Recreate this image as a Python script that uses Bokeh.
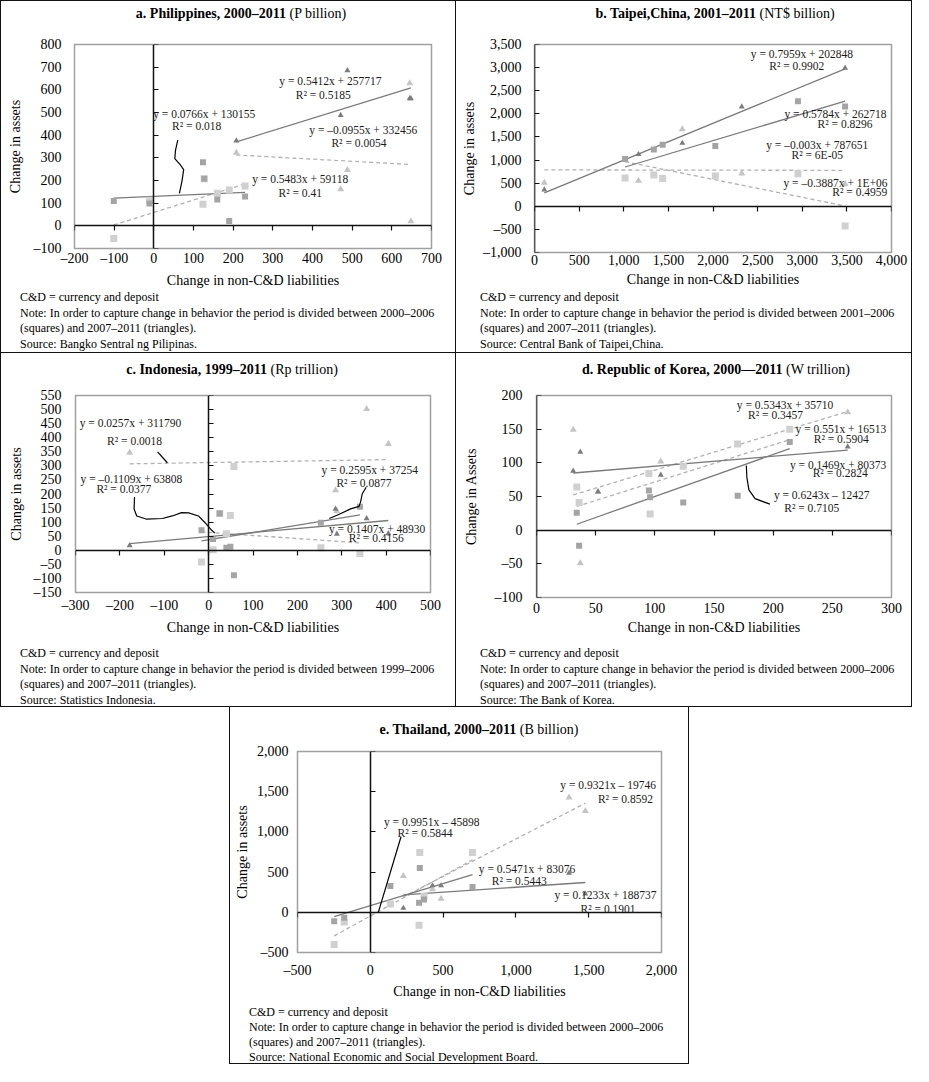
from bokeh.plotting import figure
from bokeh.models import (Range1d, LinearAxis, SingleIntervalTicker, CustomJSTickFormatter,
                          Label, Div, Spacer)
from bokeh.layouts import row, column
from bokeh.embed import file_html
from bokeh.resources import INLINE

FONT = "Liberation Serif"

# ---------------- data ----------------
# a. Philippines (P billion)
a_sq_x = [-101, -11, 124, 127, 160, 190, 230]
a_sq_dark = [110, 99, 280, 208, 116, 21, 129]
a_sq_light = [-56, 113, 95, 208, 144, 158, 176]
a_tr_x = [208, 471, 488, 645, 648]
a_tr_dark = [375, 488, 685, 562, 562]
a_tr_light = [322, 161, 246, 629, 20]
a_fit_sq_dark = (0.0766, 130.155)
a_fit_sq_light = (0.5483, 59.118)
a_fit_tr_dark = (0.5412, 257.717)
a_fit_tr_light = (-0.0955, 332.456)
a_lab_text = ["y = 0.5412x + 257717", "R² = 0.5185", "y = 0.0766x + 130155", "R² = 0.018",
              "y = –0.0955x + 332456", "R² = 0.0054", "y = 0.5483x + 59118", "R² = 0.41"]
a_lab_x = [445, 427, 127, 108, 528, 517, 369, 369]
a_lab_y = [639, 579, 492, 439, 425, 364, 206, 143]
a_lead_x = [[60.3, 54.5, 52.9, 66.9, 75.2, 71.1, 64.5]]
a_lead_y = [[377.6, 331.5, 296.5, 268.5, 247.6, 198.6, 142.7]]

# b. Taipei,China (NT$ billion)
b_sq_x = [1015, 1337, 1436, 2026, 2952, 3480]
b_sq_dark = [1025, 1228, 1333, 1305, 2274, 2156]
b_sq_light = [614, 677, 600, 656, 705, -426]
b_tr_x = [110, 1165, 1656, 2322, 3480]
b_tr_dark = [356, 1123, 1367, 2155, 2993]
b_tr_light = [509, 551, 1667, 712, 480]
b_fit_sq_dark = (0.5784, 262.718)
b_fit_sq_light = (-0.3887, 1360.0)
b_fit_tr_dark = (0.7959, 202.848)
b_fit_tr_light = (-0.003, 787.651)
b_lab_text = ["y = 0.7959x + 202848", "R² = 0.9902", "y = 0.5784x + 262718", "R² = 0.8296",
              "y = –0.003x + 787651", "R² = 6E-05", "y = –0.3887x + 1E+06", "R² = 0.4959"]
b_lab_x = [2996, 2938, 3546, 3480, 3168, 3168, 3505, 3736]
b_lab_y = [3305, 3040, 2000, 1770, 1330, 1107, 514, 318]
b_lead_x = []
b_lead_y = []

# c. Indonesia (Rp trillion)
c_sq_x = [-16, 10, 25, 40, 49, 57, 253, 341]
c_sq_dark = [71, 40, 131, 9, 13, -89, 98, 155]
c_sq_light = [-42, 2, 131, 59, 124, 298, 9, -11]
c_tr_x = [-178, 286, 289, 356, 405]
c_tr_dark = [17, 147, 58, 113, 60]
c_tr_light = [347, 213, 139, 502, 378]
c_fit_sq_dark = (0.2595, 37.254)
c_fit_sq_light = (-0.1109, 63.808)
c_fit_tr_dark = (0.1407, 48.930)
c_fit_tr_light = (0.0257, 311.790)
c_lab_text = ["y = 0.0257x + 311790", "R² = 0.0018", "y = –0.1109x + 63808", "R² = 0.0377",
              "y = 0.2595x + 37254", "R² = 0.0877", "y = 0.1407x + 48930", "R² = 0.4156"]
c_lab_x = [-176, -167, -174, -191, 363, 350, 391, 378]
c_lab_y = [453, 389, 253, 217, 287, 239, 76, 42]
c_lead_x = [[-115, -93],
            [-167, -168, -162, -141, -104, -82, -61, -45, -23, -8, 6.5, 14],
            [355, 346, 342.5, 339, 320, 294.5, 272]]
c_lead_y = [[350, 311],
            [189, 147, 122, 111, 113, 122, 134, 133, 122, 98, 72, 61],
            [224, 200, 172, 156, 147, 128, 113]]

# d. Republic of Korea (W trillion)
d_sq_x = [34, 36, 95, 96, 124, 170, 214]
d_sq_dark = [26, -23, 59, 49, 41, 51, 131]
d_sq_light = [64, 41, 84, 24, 95, 128, 150]
d_tr_x = [31, 37, 52, 105, 263]
d_tr_dark = [88, 116, 57, 82, 124]
d_tr_light = [149, -49, 57, 102, 175]
d_fit_sq_dark = (0.6243, -12.427)
d_fit_sq_light = (0.551, 16.513)
d_fit_tr_dark = (0.1469, 80.373)
d_fit_tr_light = (0.5343, 35.710)
d_lab_text = ["y = 0.5343x + 35710", "R² = 0.3457", "y = 0.551x + 16513", "R² = 0.5904",
              "y = 0.1469x + 80373", "R² = 0.2824", "y = 0.6243x – 12427", "R² = 0.7105"]
d_lab_x = [210, 202, 265, 257.5, 263.5, 256.6, 241, 232.6]
d_lab_y = [186.5, 170.6, 150.4, 135, 97.4, 85.3, 52.6, 32.4]
d_lead_x = [[177.3, 177.8, 179.5, 184.7, 197.2]]
d_lead_y = [[96, 78.1, 59.8, 46.8, 38.6]]

# e. Thailand (B billion)
e_sq_x = [-248, -179, 138, 335, 340, 369, 702]
e_sq_dark = [-112, -68, 328, 120, 552, 160, 316]
e_sq_light = [-400, -120, 104, -160, 744, 200, 744]
e_tr_x = [227, 427, 486, 1365, 1477]
e_tr_dark = [52, 332, 332, 488, 232]
e_tr_light = [452, 288, 168, 1428, 1260]
e_fit_sq_dark = (0.5471, 83.076)
e_fit_sq_light = (0.9951, -45.898)
e_fit_tr_dark = (0.1233, 188.737)
e_fit_tr_light = (0.9321, -19.746)
e_lab_text = ["y = 0.9321x – 19746", "R² = 0.8592", "y = 0.9951x – 45898", "R² = 0.5844",
              "y = 0.5471x + 83076", "R² = 0.5443", "y = 0.1233x + 188737", "R² = 0.1901"]
e_lab_x = [1706, 1752, 422, 376, 1076, 1023, 1656, 1633]
e_lab_y = [1588, 1408, 1128, 988, 540, 392, 220, 40]
e_lead_x = [[211, 55]]
e_lead_y = [[940, 0]]

NOTE1 = "C&amp;D = currency and deposit"
NOTE3 = "(squares) and 2007–2011 (triangles)."


def note2(period):
    return ("Note: In order to capture change in behavior the period is divided between "
            + period)


# ---------------- styling ----------------
C_SQ_LIGHT = "#d0d0d0"
C_SQ_DARK = "#a4a4a4"
C_TR_LIGHT = "#c4c4c4"
C_TR_DARK = "#7c7c7c"
C_SOLID = "#7a7a7a"
C_DASH = "#b2b2b2"
LAB_SIZE = 11.5


def fmt():
    return CustomJSTickFormatter(code="""
        const v = Math.abs(tick);
        const s = v.toLocaleString('en-US');
        return tick < 0 ? '\\u2013' + s : s;
    """)


def trend(p, xs, fit, dashed):
    m, b = fit
    x0, x1 = min(xs), max(xs)
    p.line([x0, x1], [m * x0 + b, m * x1 + b],
           line_color=C_DASH if dashed else C_SOLID, line_width=1.3,
           line_dash="4 3" if dashed else "solid")


def make_panel(cfg):
    W = cfg["W"]
    # title
    cx = cfg["title_cx"]
    ml = max(0, 2 * cx - W)
    mr = max(0, W - 2 * cx)
    title_html = (f'<div style="display:block;box-sizing:border-box;width:{W - ml - mr}px;'
                  f'font-family:\'{FONT}\';font-size:14px;line-height:18px;'
                  f'padding-top:{cfg["title_pt"]}px;text-align:center;white-space:nowrap;'
                  f'margin-left:{ml}px;color:#000">'
                  f'<b>{cfg["bold"]}</b> {cfg["rest"]}</div>')
    tdiv = Div(text=title_html, width=W, height=cfg["title_h"], margin=(0, 0, 0, 0))

    p = figure(width=W, height=cfg["fig_h"],
               x_range=Range1d(*cfg["xr"]), y_range=Range1d(*cfg["yr"]),
               output_backend="svg", toolbar_location=None,
               min_border_left=cfg["mbl"], min_border_right=cfg["mbr"],
               min_border_top=cfg["mbt"], min_border_bottom=cfg["mbb"],
               background_fill_color="white", border_fill_color="white",
               outline_line_color="#a0a0a0", outline_line_width=1.5, margin=(0, 0, 0, 0))
    p.grid.visible = False

    xa = p.below[0]
    ya = p.left[0]
    for ax, interval in ((xa, cfg["xint"]), (ya, cfg["yint"])):
        ax.ticker = SingleIntervalTicker(interval=interval, num_minor_ticks=0)
        ax.formatter = fmt()
        ax.axis_line_color = None
        ax.major_tick_line_color = None
        ax.minor_tick_line_color = None
        ax.major_tick_in = 0
        ax.major_tick_out = 0
        ax.major_label_text_font = FONT
        ax.major_label_text_font_size = "14px"
        ax.major_label_text_color = "#000"
        ax.axis_label_text_font = FONT
        ax.axis_label_text_font_size = "14px"
        ax.axis_label_text_font_style = "normal"
        ax.axis_label_text_color = "#000"
    xa.axis_label = "Change in non-C&D liabilities"
    ya.axis_label = cfg["ylabel"]
    xa.major_label_standoff = cfg["x_std"]
    xa.axis_label_standoff = cfg["x_lab_std"]
    ya.major_label_standoff = cfg["y_std"]
    ya.axis_label_standoff = cfg["y_lab_std"]

    # axes through zero
    for side, interval in (("left", cfg["yint"]), ("below", cfg["xint"])):
        ax0 = LinearAxis(fixed_location=0,
                         ticker=SingleIntervalTicker(interval=interval, num_minor_ticks=0),
                         major_label_text_font_size="0px", major_label_text_alpha=0,
                         axis_line_color="#111", axis_line_width=1.5,
                         major_tick_line_color="#111", major_tick_line_width=1.2,
                         minor_tick_line_color=None)
        if side == "left":
            ax0.major_tick_in = 5
            ax0.major_tick_out = 0
        else:
            ax0.major_tick_in = 0
            ax0.major_tick_out = 5
        p.add_layout(ax0, side)

    # trend lines
    trend(p, cfg["sq_x"], cfg["fit_sq_light"], True)
    trend(p, cfg["tr_x"], cfg["fit_tr_light"], True)
    trend(p, cfg["sq_x"], cfg["fit_sq_dark"], False)
    trend(p, cfg["tr_x"], cfg["fit_tr_dark"], False)

    # points
    p.scatter(cfg["sq_x"], cfg["sq_light"], marker="square", size=7,
              fill_color=C_SQ_LIGHT, line_color=None)
    p.scatter(cfg["sq_x"], cfg["sq_dark"], marker="square", size=6,
              fill_color=C_SQ_DARK, line_color=None)
    p.scatter(cfg["tr_x"], cfg["tr_light"], marker="triangle", size=7,
              fill_color=C_TR_LIGHT, line_color=None)
    p.scatter(cfg["tr_x"], cfg["tr_dark"], marker="triangle", size=6,
              fill_color=C_TR_DARK, line_color=None)

    # leader lines
    for lx, ly in zip(cfg["lead_x"], cfg["lead_y"]):
        p.line(lx, ly, line_color="#000", line_width=1.2)

    # regression labels (kept inside the plot area, which clips annotations)
    x0, x1 = cfg["xr"]
    frame_w = W - cfg["mbl"] - cfg["mbr"]
    upp = (x1 - x0) / frame_w
    for t, x, y in zip(cfg["lab_text"], cfg["lab_x"], cfg["lab_y"]):
        half = 0.47 * LAB_SIZE * len(t) / 2 + 2
        xc = min(x, x1 - half * upp)
        p.add_layout(Label(x=xc, y=y, text=t, text_align="center", text_baseline="middle",
                           text_font=FONT, text_font_size=f"{LAB_SIZE}px",
                           text_color="#1a1a1a"))

    notes_html = (f'<div style="font-family:\'{FONT}\';font-size:12px;'
                  f'line-height:{cfg["notes_lh"]}px;padding-top:{cfg["notes_pt"]}px;'
                  f'padding-left:{cfg["notes_pl"]}px;white-space:nowrap;color:#000">'
                  + "<br>".join(cfg["notes"]) + '</div>')
    ndiv = Div(text=notes_html, width=W, height=cfg["notes_h"], margin=(0, 0, 0, 0))

    styles = {f"border-{s}": "1px solid #111" for s in cfg["borders"]}
    return column(tdiv, p, ndiv, spacing=0, styles=styles)


common_ab = dict(title_h=27, title_pt=4, fig_h=262, mbt=16, mbb=38, notes_h=62,
                 notes_pt=0, notes_lh=15.5, x_std=2, x_lab_std=4)
common_cd = dict(title_h=27, title_pt=8, fig_h=257, mbt=15, mbb=37, notes_h=69,
                 notes_pt=9, notes_lh=15.5, x_std=5, x_lab_std=4)

pa = make_panel(dict(common_ab, W=454, bold="a. Philippines, 2000–2011", rest="(P billion)",
                     title_cx=240, ylabel="Change in assets", xr=(-200, 700), yr=(-100, 800),
                     xint=100, yint=100, mbl=73, mbr=24, y_std=13, y_lab_std=8,
                     sq_x=a_sq_x, sq_dark=a_sq_dark, sq_light=a_sq_light,
                     tr_x=a_tr_x, tr_dark=a_tr_dark, tr_light=a_tr_light,
                     fit_sq_dark=a_fit_sq_dark, fit_sq_light=a_fit_sq_light,
                     fit_tr_dark=a_fit_tr_dark, fit_tr_light=a_fit_tr_light,
                     lab_text=a_lab_text, lab_x=a_lab_x, lab_y=a_lab_y,
                     lead_x=a_lead_x, lead_y=a_lead_y, notes_pl=19,
                     notes=[NOTE1, note2("2000–2006"), NOTE3,
                            "Source: Bangko Sentral ng Pilipinas."],
                     borders=["top", "left", "right", "bottom"]))

pb = make_panel(dict(common_ab, W=455, bold="b. Taipei,China, 2001–2011", rest="(NT$ billion)",
                     title_cx=259, ylabel="Change in assets", xr=(0, 4000), yr=(-1000, 3500),
                     xint=500, yint=500, mbl=78, mbr=20, y_std=13, y_lab_std=3,
                     sq_x=b_sq_x, sq_dark=b_sq_dark, sq_light=b_sq_light,
                     tr_x=b_tr_x, tr_dark=b_tr_dark, tr_light=b_tr_light,
                     fit_sq_dark=b_fit_sq_dark, fit_sq_light=b_fit_sq_light,
                     fit_tr_dark=b_fit_tr_dark, fit_tr_light=b_fit_tr_light,
                     lab_text=b_lab_text, lab_x=b_lab_x, lab_y=b_lab_y,
                     lead_x=b_lead_x, lead_y=b_lead_y, notes_pl=24,
                     notes=[NOTE1, note2("2001–2006"), NOTE3,
                            "Source: Central Bank of Taipei,China."],
                     borders=["top", "right", "bottom"]))

pc = make_panel(dict(common_cd, W=454, bold="c. Indonesia, 1999–2011", rest="(Rp trillion)",
                     title_cx=231, ylabel="Change in assets", xr=(-300, 500), yr=(-150, 550),
                     xint=100, yint=50, mbl=74, mbr=25, y_std=14, y_lab_std=7,
                     sq_x=c_sq_x, sq_dark=c_sq_dark, sq_light=c_sq_light,
                     tr_x=c_tr_x, tr_dark=c_tr_dark, tr_light=c_tr_light,
                     fit_sq_dark=c_fit_sq_dark, fit_sq_light=c_fit_sq_light,
                     fit_tr_dark=c_fit_tr_dark, fit_tr_light=c_fit_tr_light,
                     lab_text=c_lab_text, lab_x=c_lab_x, lab_y=c_lab_y,
                     lead_x=c_lead_x, lead_y=c_lead_y, notes_pl=19,
                     notes=[NOTE1, note2("1999–2006"), NOTE3,
                            "Source: Statistics Indonesia."],
                     borders=["left", "right", "bottom"]))

pd_ = make_panel(dict(common_cd, W=455, bold="d. Republic of Korea, 2000—2011", rest="(W trillion)",
                      title_cx=260, ylabel="Change in Assets", xr=(0, 300), yr=(-100, 200),
                      xint=50, yint=50, mbl=80, mbr=20, y_std=14, y_lab_std=13,
                      sq_x=d_sq_x, sq_dark=d_sq_dark, sq_light=d_sq_light,
                      tr_x=d_tr_x, tr_dark=d_tr_dark, tr_light=d_tr_light,
                      fit_sq_dark=d_fit_sq_dark, fit_sq_light=d_fit_sq_light,
                      fit_tr_dark=d_fit_tr_dark, fit_tr_light=d_fit_tr_light,
                      lab_text=d_lab_text, lab_x=d_lab_x, lab_y=d_lab_y,
                      lead_x=d_lead_x, lead_y=d_lead_y, notes_pl=24,
                      notes=[NOTE1, note2("2000–2006"), NOTE3,
                             "Source: The Bank of Korea."],
                      borders=["right", "bottom"]))

pe = make_panel(dict(W=458, title_h=34, title_pt=14, fig_h=260, mbt=10, mbb=44, notes_h=62,
                     notes_pt=4, notes_lh=15, x_std=10, x_lab_std=3,
                     bold="e. Thailand, 2000–2011", rest="(B billion)",
                     title_cx=249, ylabel="Change in assets", xr=(-500, 2000), yr=(-500, 2000),
                     xint=500, yint=500, mbl=67, mbr=27, y_std=9, y_lab_std=4,
                     sq_x=e_sq_x, sq_dark=e_sq_dark, sq_light=e_sq_light,
                     tr_x=e_tr_x, tr_dark=e_tr_dark, tr_light=e_tr_light,
                     fit_sq_dark=e_fit_sq_dark, fit_sq_light=e_fit_sq_light,
                     fit_tr_dark=e_fit_tr_dark, fit_tr_light=e_fit_tr_light,
                     lab_text=e_lab_text, lab_x=e_lab_x, lab_y=e_lab_y,
                     lead_x=e_lead_x, lead_y=e_lead_y, notes_pl=19,
                     notes=[NOTE1, note2("2000–2006"), NOTE3,
                            "Source: National Economic and Social Development Board."],
                     borders=["left", "right", "bottom"]))

page = column(row(pa, pb, spacing=0),
              row(pc, pd_, spacing=0),
              row(Spacer(width=229, height=10), pe, spacing=0),
              spacing=0)

open("out.html", "w").write(file_html(page, INLINE))
